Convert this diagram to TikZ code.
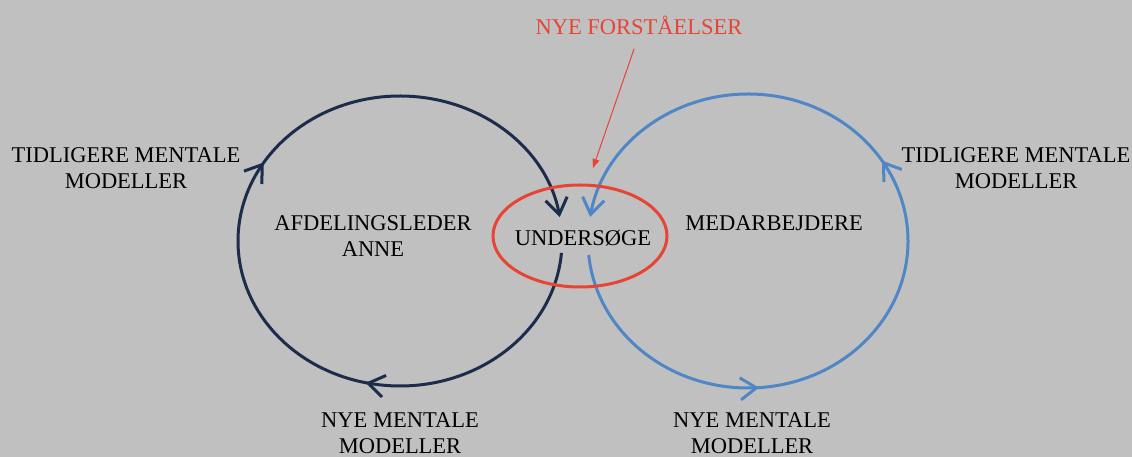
\documentclass[tikz,border=0pt]{standalone}
\usepackage{fontspec}
\setmainfont{Liberation Serif}
\usetikzlibrary{arrows.meta,decorations.markings}
\definecolor{bgGray}{RGB}{192,192,192}
\definecolor{navyLoop}{RGB}{27,45,75}
\definecolor{blueLoop}{RGB}{79,134,198}
\definecolor{redMark}{RGB}{232,68,52}
\begin{document}
\begin{tikzpicture}[x=1pt,y=1pt,
  lbl/.style={align=center,font=\fontsize{22.5}{26}\selectfont,inner sep=0pt},
  loopline/.style={line width=3pt},
  barb/.tip={Straight Barb[length=16pt,width=22pt,line width=3pt]}]
  % canvas
  \fill[bgGray] (0,0) rectangle (1132,457);
  \useasboundingbox (0,0) rectangle (1132,457);

  % left learning loop (clockwise)
  \draw[loopline,navyLoop,
    decoration={markings,
      mark=at position 0.284 with {\arrow{barb}},
      mark=at position 0.597 with {\arrow{barb}}},
    postaction={decorate},-{barb}]
    ([shift={(-4.7:162 and 145)}]400,216) arc[start angle=-4.7,end angle=-350.5,x radius=162,y radius=145];

  % right learning loop (counterclockwise)
  \draw[loopline,blueLoop,
    decoration={markings,
      mark=at position 0.257 with {\arrow{barb}},
      mark=at position 0.598 with {\arrow{barb}}},
    postaction={decorate},-{barb}]
    ([shift={(185.5:160 and 147)}]748,216) arc[start angle=185.5,end angle=530.6,x radius=160,y radius=147];

  % shared inquiry
  \draw[redMark,line width=3pt] (580,221) ellipse[x radius=87,y radius=51];
  \node[lbl] (und) at (583,219) {UNDERSØGE};

  % labels
  \node[lbl,text=redMark] (nf) at (639,432) {NYE FORSTÅELSER};
  \coordinate (nfTip) at (593,289);
  \draw[redMark,line width=1pt,-{Triangle[length=9pt,width=7pt]},shorten <=15pt] (nf.south) -- (nfTip);

  \node[lbl] (tmL) at (126,289) {TIDLIGERE MENTALE\\MODELLER};
  \node[lbl] (anne) at (373,221) {AFDELINGSLEDER\\ANNE};
  \node[lbl] (med) at (774,234) {MEDARBEJDERE};
  \node[lbl] (tmR) at (1016,289) {TIDLIGERE MENTALE\\MODELLER};
  \node[lbl] (nmL) at (400,24) {NYE MENTALE\\MODELLER};
  \node[lbl] (nmR) at (752,24) {NYE MENTALE\\MODELLER};
\end{tikzpicture}
\end{document}
